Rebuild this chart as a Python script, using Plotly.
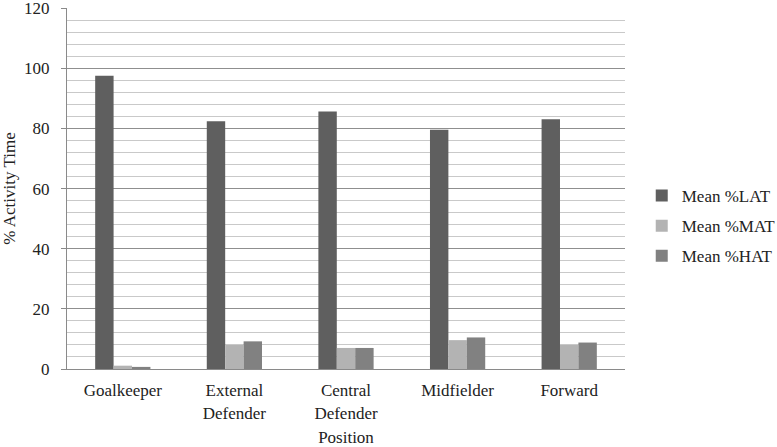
import plotly.graph_objects as go

categories = ["Goalkeeper", "External<br>Defender", "Central<br>Defender", "Midfielder", "Forward"]
series_names = ["Mean %LAT", "Mean %MAT", "Mean %HAT"]
lat = [97.6, 82.4, 85.7, 79.6, 83.1]
mat = [1.1, 8.0, 7.0, 9.6, 8.0]
hat = [0.7, 9.2, 7.0, 10.5, 8.8]
colors = ["#5f5f5f", "#b3b3b3", "#818181"]

FONT = "Liberation Serif, Times New Roman, serif"
TF = dict(family=FONT, size=17, color="#222")

fig = go.Figure()
for name, vals, col in zip(series_names, [lat, mat, hat], colors):
    fig.add_trace(go.Bar(x=categories, y=vals, name=name, marker_color=col,
                         marker_line_width=0, legendgroup=name))

fig.update_layout(
    width=777, height=447,
    margin=dict(l=67, r=152, t=8, b=78, autoexpand=False),
    paper_bgcolor="white", plot_bgcolor="white",
    font=TF,
    barmode="group", bargap=0.505, bargroupgap=0,
    showlegend=True,
    legend=dict(x=1.03, y=0.396, xanchor="left", yanchor="middle",
                font=TF, itemwidth=30,
                tracegroupgap=5, bgcolor="rgba(0,0,0,0)"),
)
fig.update_yaxes(
    range=[0, 120.1], dtick=20, tickmode="linear", tick0=0,
    tickfont=TF, automargin=False, ticklabeloverflow="allow",
    showgrid=True, gridcolor="#8f8f8f", gridwidth=1,
    minor=dict(dtick=4, showgrid=True, gridcolor="#c9c9c9", gridwidth=1),
    showline=True, linecolor="#8a8a8a", linewidth=1,
    ticks="outside", ticklen=5, tickcolor="#8a8a8a", ticklabelstandoff=8,
    zeroline=False,
    title=dict(text="% Activity Time", standoff=6, font=TF),
)
fig.update_xaxes(
    tickfont=TF, automargin=False,
    showline=True, linecolor="#8a8a8a", linewidth=1,
    ticks="", showgrid=False, ticklabelstandoff=6,
    title=dict(text="Position", standoff=12, font=TF),
)

fig.write_html("out.html", config={"displayModeBar": False},
               post_script="document.body.style.margin='0';document.body.style.overflow='hidden';")
